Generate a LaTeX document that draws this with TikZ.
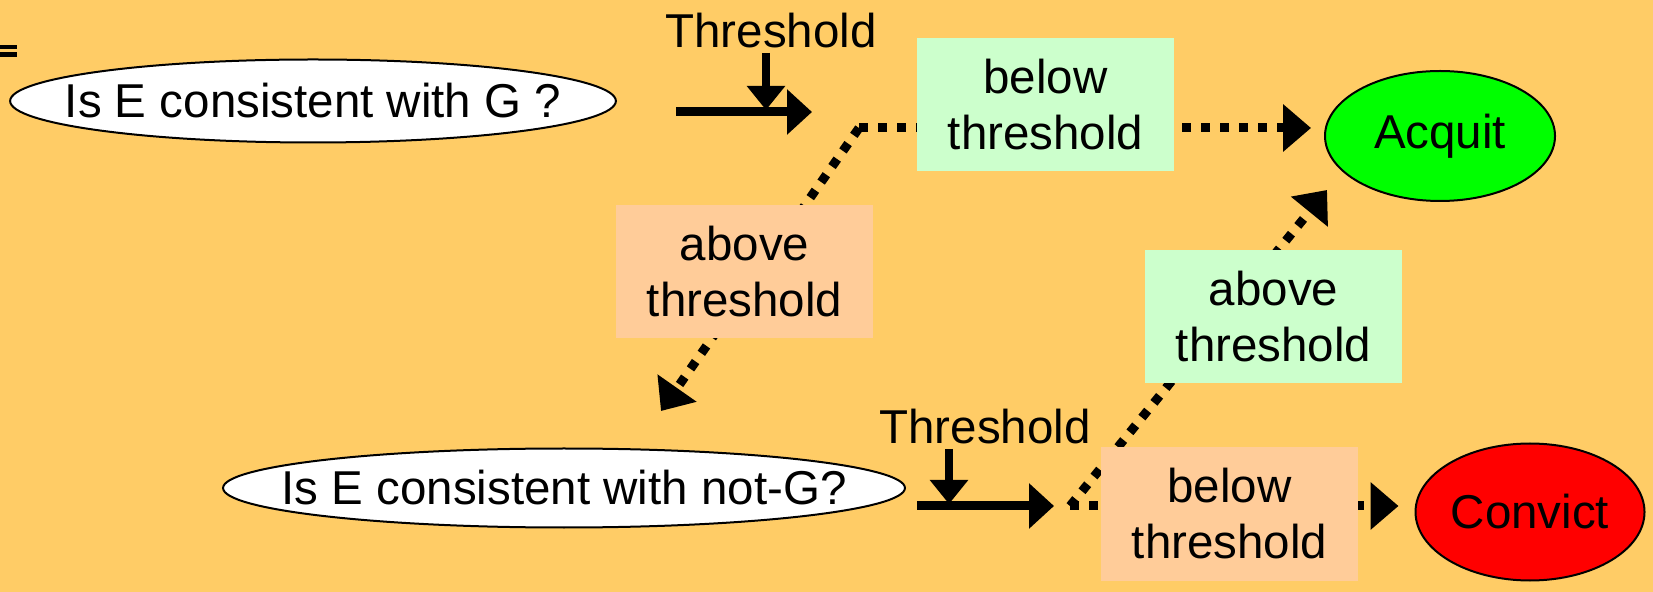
\documentclass[tikz,border=0pt]{standalone}
\usepackage{fontspec}
\setmainfont{Liberation Sans}
\usetikzlibrary{arrows.meta,shapes.geometric}
\pgfdeclarelayer{back}
\pgfdeclarelayer{conn}
\pgfsetlayers{back,conn,main}
\definecolor{bgc}{RGB}{255,204,102}
\definecolor{greenbox}{RGB}{204,255,204}
\definecolor{orangebox}{RGB}{255,204,153}
\definecolor{acq}{RGB}{0,255,0}
\definecolor{conv}{RGB}{255,0,0}
\begin{document}
\begin{tikzpicture}[x=0.5pt,y=-0.5pt,
  txt/.style={font=\fontsize{23.75pt}{28pt}\selectfont, inner sep=0pt},
  box/.style={txt, align=center, minimum width=128.5pt, minimum height=66.5pt},
  gbox/.style={box, fill=greenbox},
  obox/.style={box, fill=orangebox},
  oval/.style={txt, ellipse, draw=black, line width=1pt},
  thick arrow/.style={line width=4.5pt, -{Triangle[length=12.5pt,width=22pt]}},
  thr arrow/.style={line width=3.8pt, -{Triangle[length=12pt,width=18.5pt]}},
  dotarrow/.style={line width=4.5pt, dash pattern=on 4.5pt off 5pt, -{Triangle[length=14pt,width=23pt]}}
]
\begin{pgfonlayer}{back}
  \fill[bgc] (0,0) rectangle (1653,592);
\end{pgfonlayer}
\useasboundingbox (0,0) rectangle (1653,592);

% small marks at the top-left edge
\fill[black] (0,45) rectangle (17,49);
\fill[black] (0,52) rectangle (17,57);

% nodes
\node[oval, fill=white, inner xsep=-17pt, inner ysep=0pt, minimum height=41.5pt] (e1) at (313,101) {Is E consistent with G ?};
\node[oval, fill=white, inner xsep=-20.7pt, inner ysep=0pt, minimum height=39.5pt] (e2) at (564,488) {Is E consistent with not-G?};
\node[oval, fill=acq, minimum width=115pt, minimum height=65pt] (acquit) at (1440,136) {Acquit};
\node[oval, fill=conv, minimum width=114.5pt, minimum height=68.5pt] (convict) at (1530,512) {Convict};

\node[gbox] (bt1) at (1045.5,105) {below\\threshold};
\node[obox] (at1) at (744.5,271.5) {above\\threshold};
\node[gbox] (at2) at (1273.5,317) {above\\threshold};
\node[obox] (bt2) at (1229.5,514) {below\\threshold};

\node[txt, anchor=base] (thr1) at (771,48) {Threshold};
\node[txt, anchor=base] (thr2) at (985,444) {Threshold};

% coordinates
\coordinate (a1s) at (676,112);
\coordinate (a1e) at (812,112);
\coordinate (v1s) at (766,53);
\coordinate (v1e) at (766,110);
\coordinate (a2s) at (917,506);
\coordinate (a2e) at (1054,506);
\coordinate (v2s) at (949,449);
\coordinate (v2e) at (949,504);
\coordinate (split1) at (859,128);
\coordinate (split2) at (1070,506);
\coordinate (t3) at (661,411);
\coordinate (t4) at (1327,190);

% solid arrows
\draw[thick arrow] (a1s) -- (a1e);
\draw[thr arrow] (v1s) -- (v1e);
\draw[thick arrow] (a2s) -- (a2e);
\draw[thr arrow] (v2s) -- (v2e);

% dotted connectors behind the boxes
\begin{pgfonlayer}{conn}
  \draw[dotarrow, shorten >=6.5pt] (split1) -- (split1 -| acquit.west);
  \draw[dotarrow] (split1) -- (t3);
  \draw[dotarrow, shorten >=8pt] (split2) -- (split2 -| convict.west);
  \draw[dotarrow] (split2) -- (t4);
\end{pgfonlayer}
\end{tikzpicture}
\end{document}
